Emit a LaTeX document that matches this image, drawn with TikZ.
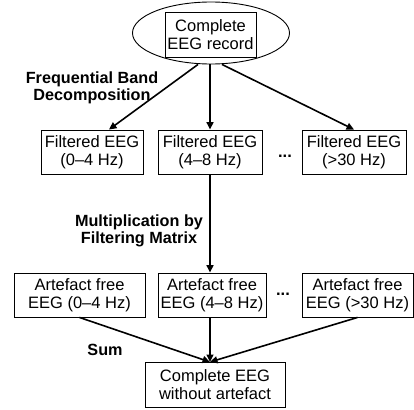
\documentclass[tikz,border=0pt]{standalone}
\usepackage{fontspec}
\setmainfont{Liberation Sans}
\usetikzlibrary{arrows.meta,shapes.geometric}

\begin{document}
\begin{tikzpicture}[x=1pt,y=-1pt,font=\fontsize{16.5}{18.5}\selectfont]
\tikzstyle{every node}+=[inner sep=0pt,align=center]
\tikzstyle{box}=[draw,line width=0.9pt,minimum height=44pt]
\tikzstyle{lbl}=[font=\fontsize{16.2}{17.5}\selectfont\bfseries]
\tikzstyle{arr}=[line width=1.6pt,-{Triangle[length=7.5pt,width=7pt]}]
\useasboundingbox (0,0) rectangle (414,409);
\node [draw,ellipse,line width=0.9pt,minimum width=157pt,minimum height=62pt] (rec) at (211,33) {};
\node [box,minimum width=91pt,minimum height=45pt] (src) at (210.5,34.5) {Complete\\EEG record};
\node [box,minimum width=102pt] (f1) at (92,152) {Filtered EEG\\(0--4 Hz)};
\node [box,minimum width=104pt] (f2) at (210,152) {Filtered EEG\\(4--8 Hz)};
\node [box,minimum width=104pt] (f3) at (354,152) {Filtered EEG\\(>30 Hz)};
\node (fd) at (285,156) {\textbf{...}};
\node [box,minimum width=131pt] (a1) at (79.5,295) {Artefact free\\EEG (0--4 Hz)};
\node [box,minimum width=108pt] (a2) at (212,295) {Artefact free\\EEG (4--8 Hz)};
\node [box,minimum width=111pt] (a3) at (357.5,295) {Artefact free\\EEG (>30 Hz)};
\node (ad) at (283,294) {\textbf{...}};
\node [box,minimum width=140pt,minimum height=45pt] (out) at (215,384.5) {Complete EEG\\without artefact};
\coordinate (m) at (210,362);
\node [lbl] (l1) at (92,88) {Frequential Band\\Decomposition};
\node [lbl] (l2) at (139,231) {Multiplication by\\Filtering Matrix};
\node [lbl] (l3) at (105,350) {Sum};
\draw [arr] ([xshift=-13pt]rec.south) -- ([xshift=17pt]f1.north);
\draw [arr] ([xshift=-1pt]rec.south) -- (f2.north);
\draw [arr] ([xshift=11pt]rec.south) -- (f3.north);
\draw [arr] (f2.south) -- (f2.south |- a2.north);
\draw [arr] (a1.south) -- (m);
\draw [arr] (a2.south -| m) -- (m);
\draw [arr] (a3.south) -- (m);
\end{tikzpicture}
\end{document}
